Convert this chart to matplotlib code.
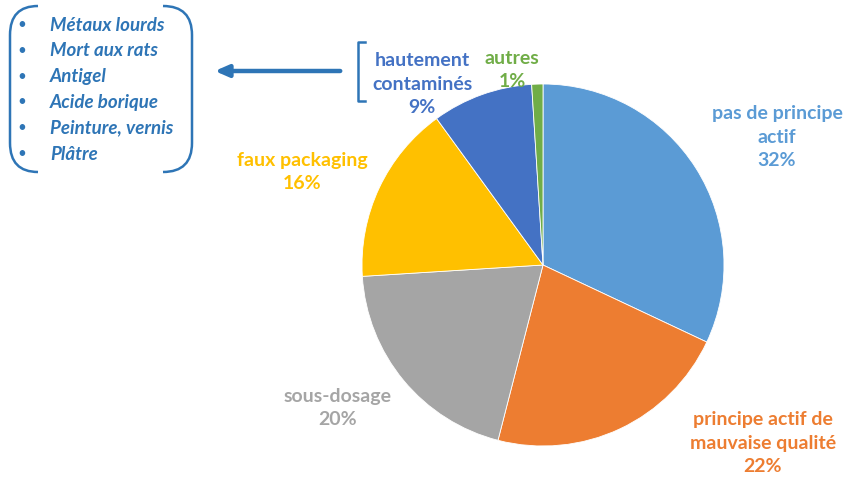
import matplotlib
matplotlib.use("Agg")
import matplotlib.pyplot as plt
from matplotlib.path import Path
from matplotlib.patches import PathPatch

# Données du graphique
categories = ["pas de principe\nactif", "principe actif de\nmauvaise qualité", "sous-dosage",
              "faux packaging", "hautement\ncontaminés", "autres"]
valeurs = [32, 22, 20, 16, 9, 1]
couleurs = ["#5B9BD5", "#ED7D31", "#A5A5A5", "#FFC000", "#4472C4", "#70AD47"]
liste_contaminants = ["Métaux lourds", "Mort aux rats", "Antigel", "Acide borique",
                      "Peinture, vernis", "Plâtre"]

# Position des étiquettes (pixels, origine en haut à gauche)
pos_labels = [(777, 137), (763, 443), (338, 408), (302, 172), (422, 84), (512, 70)]

W, H = 846, 479
fig = plt.figure(figsize=(W / 100, H / 100), dpi=100)
ax = fig.add_axes([0, 0, 1, 1])

police = "Lato"
bleu = "#2E75B6"

# Camembert
cx, cy, r = 543, H - 265, 181
ax.pie(valeurs, colors=couleurs, startangle=90, counterclock=False,
       center=(cx, cy), radius=r, frame=True,
       wedgeprops=dict(linewidth=0.6, edgecolor="white"))
ax.set_xlim(0, W)
ax.set_ylim(0, H)
ax.axis("off")
ax.set_aspect("equal")

for cat, val, col, (x, y) in zip(categories, valeurs, couleurs, pos_labels):
    ax.text(x, H - y, f"{cat}\n{val}%", ha="center", va="center", color=col,
            fontsize=14, fontweight="bold", family=police, linespacing=1.47)

# Liste à gauche
for i, item in enumerate(liste_contaminants):
    y = H - (25 + i * 25.8)
    ax.text(22, y, "•", ha="center", va="center", color=bleu, fontsize=11, family=police)
    ax.text(50, y, item, ha="left", va="center", color=bleu, fontsize=13.5,
            fontweight="bold", style="italic", family=police)

# Parenthèses arrondies autour de la liste
gauche = Path([(38, H - 6), (10, H - 6), (10, H - 35), (10, H - 143), (10, H - 172), (38, H - 172)],
              [Path.MOVETO, Path.CURVE3, Path.CURVE3, Path.LINETO, Path.CURVE3, Path.CURVE3])
droite = Path([(163, H - 6), (192, H - 6), (192, H - 35), (192, H - 143), (192, H - 172), (163, H - 172)],
              [Path.MOVETO, Path.CURVE3, Path.CURVE3, Path.LINETO, Path.CURVE3, Path.CURVE3])
for p in (gauche, droite):
    ax.add_patch(PathPatch(p, fill=False, edgecolor=bleu, linewidth=1.8))

# Crochet près de "hautement contaminés"
ax.plot([365, 358, 358, 365], [H - 42, H - 42, H - 101, H - 101], color=bleu, linewidth=1.8)

# Flèche vers la liste
ax.annotate("", xy=(212, H - 71), xytext=(343, H - 71),
            arrowprops=dict(arrowstyle="-|>,head_length=0.8,head_width=0.35",
                            color=bleu, linewidth=3.2))

fig.savefig("out.png", dpi=100)
